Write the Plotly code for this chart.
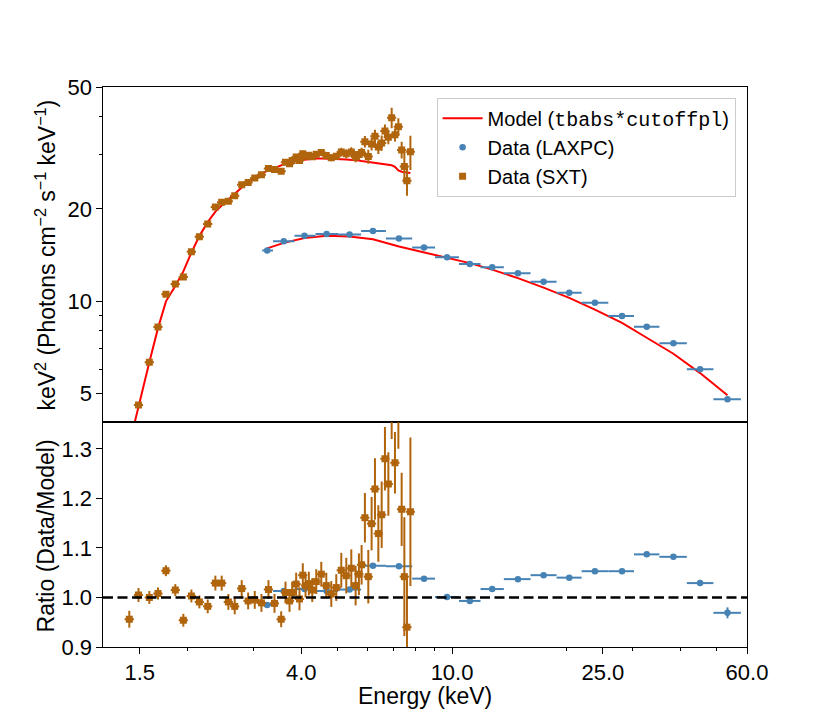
import numpy as np
import plotly.graph_objects as go

# ---------------- data ----------------
SXT_ENERGY = [1.408, 1.489, 1.590, 1.676, 1.759, 1.862, 1.955, 2.053, 2.155, 2.267,
              2.375, 2.468, 2.570, 2.671, 2.787, 2.898, 3.017, 3.142, 3.279, 3.401,
              3.542, 3.636, 3.726, 3.787, 3.880, 3.959, 4.039, 4.107, 4.190, 4.278,
              4.383, 4.519, 4.659, 4.802, 4.950, 5.103, 5.260, 5.423, 5.567, 5.680,
              5.773, 5.890, 6.013, 6.135, 6.261, 6.391, 6.522, 6.653, 6.792, 6.930,
              7.070, 7.218, 7.364, 7.485, 7.605, 7.765]
SXT_FLUX = [3.25, 4.58, 6.31, 8.23, 10.52, 11.37, 11.98, 14.49, 16.22, 17.84,
            20.27, 21.04, 21.19, 22.06, 23.96, 24.40, 25.25, 25.83, 27.10, 26.90,
            26.55, 28.38, 28.10, 28.79, 29.53, 28.76, 30.25, 29.70, 29.91, 29.59,
            30.13, 30.57, 29.90, 29.35, 29.68, 30.65, 30.28, 30.66, 29.54, 30.10,
            30.54, 33.15, 29.64, 32.57, 34.50, 31.84, 32.85, 35.90, 34.29, 39.70,
            34.92, 37.10, 31.16, 27.51, 24.72, 30.73]
SXT_MODEL = [3.40, 4.56, 6.31, 8.16, 9.98, 11.2, 12.5, 14.4, 16.3, 18.1,
             19.6, 20.5, 21.4, 22.4, 23.5, 24.5, 25.3, 26.1, 26.7, 27.2,
             27.7, 28.1, 28.3, 28.5, 28.75, 28.85, 28.95, 29.0, 29.1, 29.15,
             29.2, 29.2, 29.2, 29.15, 29.1, 29.05, 29.0, 28.95, 28.85, 28.75,
             28.65, 28.55, 28.45, 28.35, 28.3, 28.2, 28.15, 28.05, 27.9, 27.75,
             27.45, 26.7, 26.45, 26.4, 26.3, 26.2]
SXT_RATIO = [0.956, 1.005, 1.000, 1.008, 1.054, 1.015, 0.954, 1.003, 0.991, 0.982,
             1.029, 1.029, 0.991, 0.982, 1.018, 0.993, 0.995, 0.989, 1.016, 0.988,
             0.956, 1.010, 0.993, 1.010, 1.027, 0.997, 1.045, 1.024, 1.028, 1.015,
             1.032, 1.047, 1.024, 1.007, 1.020, 1.055, 1.044, 1.059, 1.024, 1.047,
             1.066, 1.161, 1.042, 1.149, 1.219, 1.129, 1.167, 1.280, 1.229, 1.430,
             1.272, 1.390, 1.178, 1.042, 0.940, 1.173]
SXT_RATIO_ERR = [0.017, 0.014, 0.013, 0.012, 0.011, 0.012, 0.013, 0.013, 0.013, 0.014,
                 0.015, 0.015, 0.016, 0.016, 0.017, 0.017, 0.018, 0.018, 0.019, 0.019,
                 0.016, 0.022, 0.022, 0.022, 0.023, 0.023, 0.024, 0.024, 0.024, 0.024,
                 0.025, 0.025, 0.026, 0.026, 0.027, 0.035, 0.036, 0.038, 0.040, 0.042,
                 0.040, 0.050, 0.054, 0.054, 0.062, 0.057, 0.067, 0.064, 0.064, 0.110,
                 0.062, 0.090, 0.074, 0.120, 0.100, 0.150]
SXT_XERR_PERCENT = 2.8

LAXPC_ENERGY = [3.253, 3.598, 4.081, 4.667, 5.366, 6.185, 7.244, 8.435, 9.70, 11.14,
                12.76, 14.92, 17.44, 20.38, 23.82, 28.08, 32.63, 38.37, 45.12, 53.29]
LAXPC_E_LO = [3.156, 3.370, 3.840, 4.364, 5.004, 5.756, 6.693, 7.850, 9.018, 10.43,
              11.89, 13.70, 16.11, 18.87, 21.97, 25.84, 30.20, 35.24, 41.63, 48.93]
LAXPC_E_HI = [3.370, 3.840, 4.364, 5.004, 5.756, 6.693, 7.850, 9.018, 10.43, 11.89,
              13.70, 16.11, 18.87, 21.97, 25.84, 30.20, 35.24, 41.63, 48.93, 57.81]
LAXPC_FLUX = [14.64, 15.69, 16.33, 16.55, 16.51, 16.93, 16.02, 14.95, 13.89, 13.21,
              12.89, 12.32, 11.57, 10.65, 9.88, 8.94, 8.25, 7.28, 5.99, 4.78]
LAXPC_MODEL = [14.86, 15.49, 16.06, 16.34, 16.25, 15.91, 15.07, 14.40, 13.88, 13.30,
               12.67, 11.88, 11.07, 10.24, 9.38, 8.49, 7.59, 6.73, 5.82, 4.93]
LAXPC_RATIO = [0.985, 1.013, 1.017, 1.013, 1.016, 1.064, 1.063, 1.038, 1.001, 0.993,
               1.017, 1.037, 1.045, 1.040, 1.053, 1.053, 1.087, 1.082, 1.029, 0.969]
LAXPC_RATIO_ERR = [0.004, 0.003, 0.003, 0.003, 0.003, 0.003, 0.003, 0.003, 0.003, 0.003,
                   0.003, 0.003, 0.003, 0.003, 0.004, 0.004, 0.004, 0.005, 0.006, 0.011]

X_TICKS = [1.5, 4.0, 10.0, 25.0, 60.0]
X_TICK_LABELS = ["1.5", "4.0", "10.0", "25.0", "60.0"]
X_MINOR = [2, 3, 5, 6, 7, 8, 9, 20, 30, 40, 50]
Y_TICKS = [5, 10, 20, 50]
Y_TICK_LABELS = ["5", "10", "20", "50"]
Y_MINOR = [6, 7, 8, 9, 30, 40]
R_TICKS = [0.9, 1.0, 1.1, 1.2, 1.3]
R_TICK_LABELS = ["0.9", "1.0", "1.1", "1.2", "1.3"]

X_RANGE = [1.2, 60.0]
Y_RANGE = [4.02, 50.0]
R_RANGE = [0.9, 1.3536]

# ---------------- derived error arrays ----------------
sxt_flux_err = [f * e / r for f, e, r in zip(SXT_FLUX, SXT_RATIO_ERR, SXT_RATIO)]
lax_flux_err = [f * e / r for f, e, r in zip(LAXPC_FLUX, LAXPC_RATIO_ERR, LAXPC_RATIO)]
lax_xplus = [hi - e for e, hi in zip(LAXPC_ENERGY, LAXPC_E_HI)]
lax_xminus = [e - lo for e, lo in zip(LAXPC_ENERGY, LAXPC_E_LO)]

BLUE = "#4682b4"
BROWN = "#b0640c"
RED = "#ff0000"
FONT = "Liberation Sans"
MONO = "Liberation Mono"

fig = go.Figure()

# models (top panel)
fig.add_trace(go.Scatter(
    x=SXT_ENERGY, y=SXT_MODEL, mode="lines", line=dict(color=RED, width=2),
    name="Model (<span style='font-family:" + MONO + "'>tbabs*cutoffpl</span>)",
    legendgroup="model", xaxis="x", yaxis="y"))
fig.add_trace(go.Scatter(
    x=LAXPC_ENERGY, y=LAXPC_MODEL, mode="lines", line=dict(color=RED, width=2),
    showlegend=False, legendgroup="model", xaxis="x", yaxis="y"))

# data (top panel)
fig.add_trace(go.Scatter(
    x=LAXPC_ENERGY, y=LAXPC_FLUX, mode="markers", name="Data (LAXPC)",
    marker=dict(color=BLUE, size=6.5, symbol="circle"),
    error_x=dict(type="data", symmetric=False, array=lax_xplus, arrayminus=lax_xminus,
                 color=BLUE, thickness=2, width=0),
    error_y=dict(type="data", array=lax_flux_err, color=BLUE, thickness=2, width=0),
    legendgroup="lax", xaxis="x", yaxis="y"))
fig.add_trace(go.Scatter(
    x=SXT_ENERGY, y=SXT_FLUX, mode="markers", name="Data (SXT)",
    marker=dict(color=BROWN, size=7, symbol="square"),
    error_x=dict(type="percent", value=SXT_XERR_PERCENT, color=BROWN, thickness=2, width=0),
    error_y=dict(type="data", array=sxt_flux_err, color=BROWN, thickness=2, width=0),
    legendgroup="sxt", xaxis="x", yaxis="y"))

# ratio panel
fig.add_trace(go.Scatter(
    x=LAXPC_ENERGY, y=LAXPC_RATIO, mode="markers", showlegend=False,
    marker=dict(color=BLUE, size=6.5, symbol="circle"),
    error_x=dict(type="data", symmetric=False, array=lax_xplus, arrayminus=lax_xminus,
                 color=BLUE, thickness=2, width=0),
    error_y=dict(type="data", array=LAXPC_RATIO_ERR, color=BLUE, thickness=2, width=0),
    xaxis="x2", yaxis="y2"))
fig.add_trace(go.Scatter(
    x=SXT_ENERGY, y=SXT_RATIO, mode="markers", showlegend=False,
    marker=dict(color=BROWN, size=7, symbol="square"),
    error_x=dict(type="percent", value=SXT_XERR_PERCENT, color=BROWN, thickness=2, width=0),
    error_y=dict(type="data", array=SXT_RATIO_ERR, color=BROWN, thickness=2, width=0),
    xaxis="x2", yaxis="y2"))

fig.add_shape(type="line", xref="x2 domain", yref="y2", x0=0, x1=1, y0=1.0, y1=1.0,
              line=dict(color="black", width=2.5, dash="10px,4.5px"), layer="above")

split = 224.7 / 560.0
axis_common = dict(showline=True, mirror=True, linecolor="black", linewidth=1.2,
                   showgrid=False, zeroline=False, tickcolor="black", tickwidth=1.2,
                   tickfont=dict(family=FONT, size=22, color="black"))

fig.update_layout(
    width=830, height=727,
    # the page body adds an 8 px offset, so margins are shifted to compensate
    margin=dict(l=95, r=91, t=79, b=88),
    paper_bgcolor="white", plot_bgcolor="white",
    font=dict(family=FONT, size=21, color="black"),
    xaxis=dict(type="log", range=[np.log10(X_RANGE[0]), np.log10(X_RANGE[1])],
               domain=[0, 1], anchor="y", showticklabels=False, ticks="",
               **axis_common),
    xaxis2=dict(type="log", range=[np.log10(X_RANGE[0]), np.log10(X_RANGE[1])],
                domain=[0, 1], anchor="y2", tickmode="array", tickvals=X_TICKS,
                ticktext=X_TICK_LABELS, ticks="outside", ticklen=5.5,
                minor=dict(tickmode="array", tickvals=X_MINOR, ticks="outside",
                           ticklen=3, tickwidth=1, tickcolor="black"),
                **axis_common),
    yaxis=dict(type="log", range=[np.log10(Y_RANGE[0]), np.log10(Y_RANGE[1])],
               domain=[split, 1], anchor="x", tickmode="array", tickvals=Y_TICKS,
               ticktext=Y_TICK_LABELS, ticks="outside", ticklen=5.5,
               minor=dict(tickmode="array", tickvals=Y_MINOR, ticks="outside",
                          ticklen=3, tickwidth=1, tickcolor="black"),
               **axis_common),
    yaxis2=dict(range=R_RANGE, domain=[0, split], anchor="x2", tickmode="array",
                tickvals=R_TICKS, ticktext=R_TICK_LABELS, ticks="outside", ticklen=5.5,
                **axis_common),
    legend=dict(x=0.518, y=0.981, xanchor="left", yanchor="top",
                bordercolor="#cccccc", borderwidth=1, bgcolor="rgba(255,255,255,0.85)",
                font=dict(family=FONT, size=20, color="black"), tracegroupgap=0,
                itemwidth=40),
    annotations=[
        dict(text="keV<sup>2</sup> (Photons cm<sup>\u22122</sup> s<sup>\u22121</sup> keV<sup>\u22121</sup>)",
             xref="paper", yref="paper", x=(46 - 103.3) / 643.4, y=(646.7 - 254.6) / 560,
             textangle=-90, showarrow=False, xanchor="center", yanchor="middle",
             font=dict(family=FONT, size=23, color="black")),
        dict(text="Ratio (Data/Model)", xref="paper", yref="paper",
             x=(46 - 103.3) / 643.4, y=(646.7 - 535.5) / 560,
             textangle=-90, showarrow=False, xanchor="center", yanchor="middle",
             font=dict(family=FONT, size=23, color="black")),
        dict(text="Energy (keV)", xref="paper", yref="paper", x=0.5,
             y=(646.7 - 696) / 560, showarrow=False, xanchor="center", yanchor="middle",
             font=dict(family=FONT, size=23, color="black")),
    ],
)

fig.write_html("out.html")
